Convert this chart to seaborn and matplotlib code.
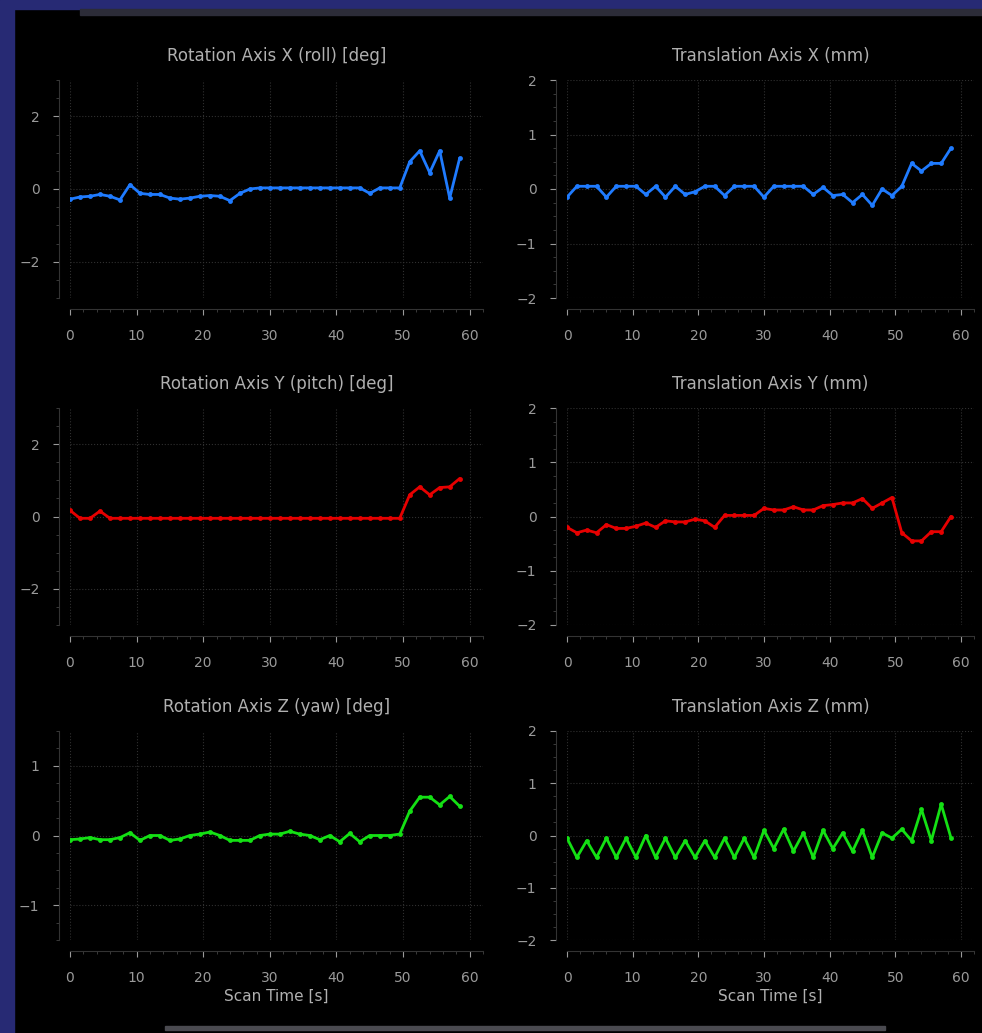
import numpy as np
import pandas as pd
import matplotlib
matplotlib.use("Agg")
import matplotlib.pyplot as plt
from matplotlib.patches import Rectangle
from matplotlib.ticker import MultipleLocator
import seaborn as sns

# Scan volumes sampled every 1.5 s
time_s = np.arange(40) * 1.5

rot_x = [-0.28, -0.22, -0.20, -0.15, -0.20, -0.30, 0.12, -0.12, -0.15, -0.15,
         -0.25, -0.28, -0.25, -0.20, -0.18, -0.20, -0.32, -0.12, 0.00, 0.03,
         0.03, 0.03, 0.03, 0.03, 0.03, 0.03, 0.03, 0.03, 0.03, 0.03,
         -0.12, 0.03, 0.03, 0.03, 0.75, 1.05, 0.45, 1.05, -0.25, 0.85]

trans_x = [-0.15, 0.05, 0.05, 0.05, -0.15, 0.05, 0.05, 0.05, -0.10, 0.05,
           -0.15, 0.05, -0.10, -0.05, 0.05, 0.05, -0.12, 0.05, 0.05, 0.05,
           -0.15, 0.05, 0.05, 0.05, 0.05, -0.10, 0.03, -0.12, -0.10, -0.25,
           -0.10, -0.30, 0.00, -0.12, 0.05, 0.47, 0.33, 0.47, 0.47, 0.75]

rot_y = [0.17, -0.05, -0.05, 0.15, -0.05, -0.05, -0.05, -0.05, -0.05, -0.05,
         -0.05, -0.05, -0.05, -0.05, -0.05, -0.05, -0.05, -0.05, -0.05, -0.05,
         -0.05, -0.05, -0.05, -0.05, -0.05, -0.05, -0.05, -0.05, -0.05, -0.05,
         -0.05, -0.05, -0.05, -0.05, 0.60, 0.82, 0.60, 0.80, 0.82, 1.05]

trans_y = [-0.20, -0.30, -0.25, -0.30, -0.15, -0.22, -0.22, -0.18, -0.12, -0.20,
           -0.08, -0.10, -0.10, -0.05, -0.08, -0.20, 0.02, 0.02, 0.02, 0.02,
           0.15, 0.12, 0.12, 0.18, 0.12, 0.12, 0.20, 0.22, 0.25, 0.25,
           0.33, 0.15, 0.25, 0.35, -0.30, -0.45, -0.45, -0.28, -0.28, 0.00]

rot_z = [-0.06, -0.05, -0.03, -0.06, -0.06, -0.03, 0.04, -0.07, 0.00, 0.00,
         -0.07, -0.05, 0.00, 0.02, 0.05, 0.00, -0.07, -0.07, -0.07, 0.00,
         0.02, 0.02, 0.06, 0.02, 0.00, -0.06, 0.00, -0.09, 0.03, -0.09,
         0.00, 0.00, 0.00, 0.02, 0.35, 0.55, 0.55, 0.44, 0.56, 0.42]

trans_z = [-0.05, -0.42, -0.10, -0.42, -0.05, -0.42, -0.05, -0.42, 0.00, -0.42,
           -0.05, -0.42, -0.10, -0.42, -0.10, -0.42, -0.05, -0.42, -0.05, -0.42,
           0.10, -0.25, 0.12, -0.30, 0.05, -0.42, 0.10, -0.25, 0.05, -0.30,
           0.10, -0.42, 0.05, -0.05, 0.12, -0.10, 0.50, -0.10, 0.60, -0.05]

titles = ["Rotation Axis X (roll) [deg]", "Translation Axis X (mm)",
          "Rotation Axis Y (pitch) [deg]", "Translation Axis Y (mm)",
          "Rotation Axis Z (yaw) [deg]", "Translation Axis Z (mm)"]
series = [rot_x, trans_x, rot_y, trans_y, rot_z, trans_z]
colors = ["#1f7bff", "#1f7bff", "#e60000", "#e60000", "#14e014", "#14e014"]
ylims = [(-3, 3), (-2, 2), (-3, 3), (-2, 2), (-1.5, 1.5), (-2, 2)]
yticks = [[-2, 0, 2], [-2, -1, 0, 1, 2], [-2, 0, 2], [-2, -1, 0, 1, 2],
          [-1, 0, 1], [-2, -1, 0, 1, 2]]
yminor = [0.5, 0.25, 0.5, 0.25, 0.25, 0.25]
xlabel = "Scan Time [s]"

sns.set_theme(style="dark")
plt.rcParams.update({
    "font.family": ["DejaVu Sans"],
    "figure.facecolor": "black",
    "axes.facecolor": "black",
    "text.color": "#b0b0b0",
    "axes.labelcolor": "#b0b0b0",
    "xtick.color": "#9a9a9a",
    "ytick.color": "#9a9a9a",
})

W, H = 982, 1033
fig = plt.figure(figsize=(W / 100, H / 100), dpi=100, facecolor="black")

# window frame decorations
fig.patches.append(Rectangle((0, 1 - 9 / H), 1, 9 / H, transform=fig.transFigure,
                             color="#272a74", zorder=0))
fig.patches.append(Rectangle((80 / W, 1 - 15 / H), 1 - 80 / W, 6 / H,
                             transform=fig.transFigure, color="#2c2c38", zorder=0))
fig.patches.append(Rectangle((0, 0), 14 / W, 1, transform=fig.transFigure,
                             color="#272a74", zorder=0))
fig.patches.append(Rectangle((165 / W, 3 / H), 720 / W, 4 / H,
                             transform=fig.transFigure, color="#4a4a50", zorder=0))

cols = [(70, 413), (567, 407)]
rows = [(80, 298), (408, 625), (731, 940)]

for i in range(6):
    r, c = divmod(i, 2)
    left, width = cols[c]
    top, bottom = rows[r]
    ax = fig.add_axes([left / W, 1 - bottom / H, width / W, (bottom - top) / H])
    ax.set_facecolor("black")
    df = pd.DataFrame({"t": time_s, "v": series[i]})
    sns.lineplot(data=df, x="t", y="v", ax=ax, color=colors[i], linewidth=2.0,
                 marker="o", markersize=3.5, markeredgewidth=0)
    ax.set_xlim(0, 62)
    ax.set_ylim(*ylims[i])
    ax.set_xticks(range(0, 61, 10))
    ax.set_yticks(yticks[i])
    ax.xaxis.set_minor_locator(MultipleLocator(2))
    ax.yaxis.set_minor_locator(MultipleLocator(yminor[i]))
    ax.grid(True, which="major", color="#303030", linestyle=":", linewidth=0.8)
    ax.tick_params(which="major", length=4, width=0.8, labelsize=10, pad=10,
                   bottom=True, left=True)
    ax.tick_params(which="minor", length=2, width=0.6, colors="#444444",
                   bottom=True, left=True)
    sns.despine(ax=ax, offset=8)
    for side in ("left", "bottom"):
        ax.spines[side].set_color("#333333")
        ax.spines[side].set_linewidth(0.8)
    ax.set_title(titles[i], fontsize=12, color="#b0b0b0", pad=14)
    ax.set_ylabel("")
    if r == 2:
        ax.set_xlabel(xlabel, fontsize=11, color="#b0b0b0", labelpad=3)
    else:
        ax.set_xlabel("")

fig.savefig("out.png", dpi=100, facecolor="black")
